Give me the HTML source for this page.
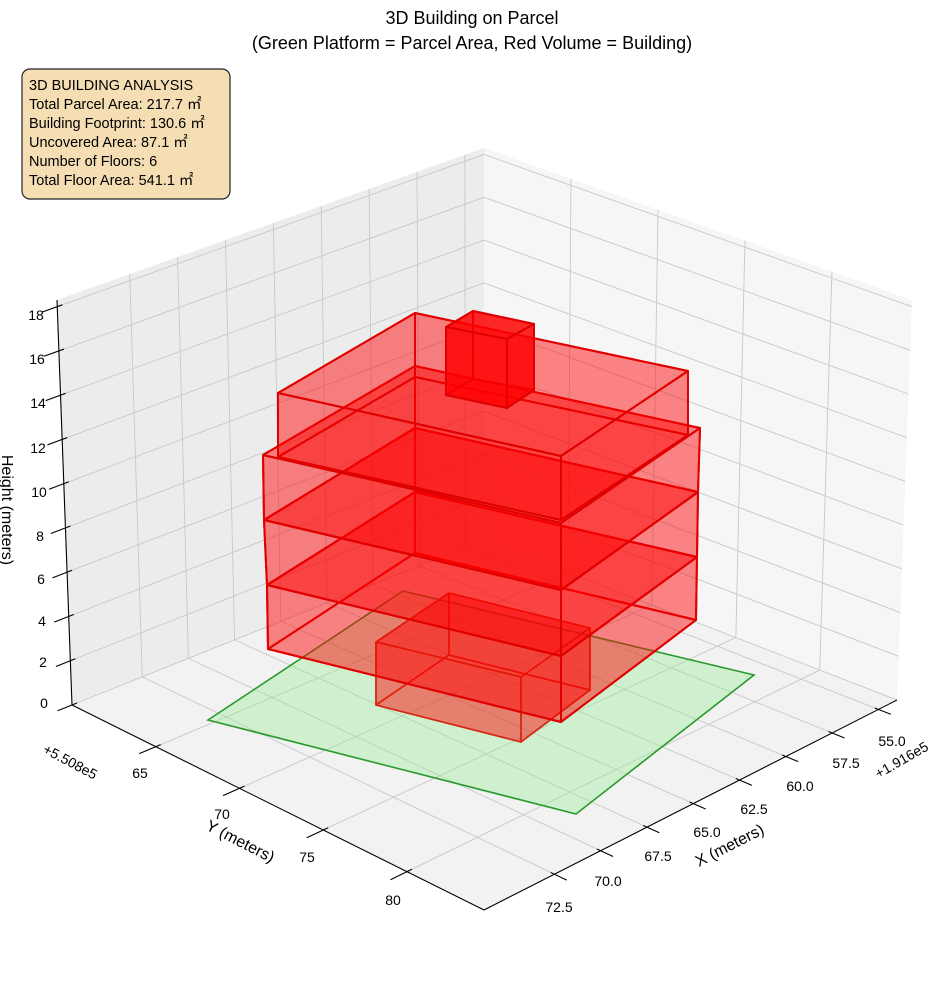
<!DOCTYPE html>
<html><head><meta charset="utf-8"><style>
body{margin:0;background:#fff;}
svg{display:block;font-family:"Liberation Sans",sans-serif;}
</style></head><body>
<svg id="s" width="944" height="992" viewBox="0 0 944 992" xmlns="http://www.w3.org/2000/svg">
<rect width="944" height="992" fill="#fff"/>
<polygon points="72,705 57,300 484,148 484,540" fill="#ececec"/>
<polygon points="484,540 484,148 912,300 897,700" fill="#f6f6f6"/>
<polygon points="72,705 484,540 897,700 484,910" fill="#f2f2f2"/>
<g id="grid" stroke="#c8c8c8" stroke-width="0.9" fill="none"></g>
<polygon points="208,720 403,591 754,675 576,814" fill="rgba(144,238,144,0.35)" stroke="#2a9a2a" stroke-width="1.6"/>
<g id="bld"></g>
<g stroke="#000" stroke-width="1.1" fill="none">
<line x1="57" y1="300" x2="72" y2="705"/>
<line x1="72" y1="705" x2="484" y2="910"/>
<line x1="484" y1="910" x2="897" y2="700"/>
</g>
<g id="ticks" stroke="#000" stroke-width="1.1"></g>
<g font-size="14" fill="#000" text-anchor="middle">
<text x="36" y="320">18</text><text x="37" y="364">16</text><text x="38" y="408">14</text>
<text x="38" y="453">12</text><text x="39" y="497">10</text><text x="40" y="541">8</text>
<text x="41" y="584">6</text><text x="42" y="626">4</text><text x="43" y="667">2</text>
<text x="44" y="708">0</text>
<text x="140" y="778">65</text><text x="222" y="819">70</text><text x="307" y="862">75</text><text x="393" y="905">80</text>
<text x="892" y="746">55.0</text><text x="846" y="768">57.5</text><text x="800" y="791">60.0</text>
<text x="754" y="814">62.5</text><text x="707" y="837">65.0</text><text x="658" y="861">67.5</text>
<text x="608" y="886">70.0</text><text x="559" y="912">72.5</text>
<text transform="translate(68,766) rotate(28)">+5.508e5</text>
<text transform="translate(904,764) rotate(-30)">+1.916e5</text>
<text font-size="16" transform="translate(238,846) rotate(27)">Y (meters)</text>
<text font-size="16" transform="translate(732,850) rotate(-27)">X (meters)</text>
<text font-size="16" transform="translate(2,510) rotate(90)">Height (meters)</text>
<text font-size="18" x="472" y="24">3D Building on Parcel</text>
<text font-size="18" x="472" y="49">(Green Platform = Parcel Area, Red Volume = Building)</text>
</g>
<rect x="22" y="69" width="208" height="130" rx="8" fill="#f5deb3" stroke="#222" stroke-width="1.2"/>
<g font-size="14.5" fill="#000">
<text x="29" y="90">3D BUILDING ANALYSIS</text>
<text x="29" y="109">Total Parcel Area: 217.7 ㎡</text>
<text x="29" y="128">Building Footprint: 130.6 ㎡</text>
<text x="29" y="147">Uncovered Area: 87.1 ㎡</text>
<text x="29" y="166">Number of Floors: 6</text>
<text x="29" y="185">Total Floor Area: 541.1 ㎡</text>
</g>
</svg>
<script>
var NS="http://www.w3.org/2000/svg";
function L(a,b,t){return [a[0]+(b[0]-a[0])*t,a[1]+(b[1]-a[1])*t];}
function line(g,p,q,attrs){var e=document.createElementNS(NS,"line");e.setAttribute("x1",p[0]);e.setAttribute("y1",p[1]);e.setAttribute("x2",q[0]);e.setAttribute("y2",q[1]);if(attrs)for(var k in attrs)e.setAttribute(k,attrs[k]);g.appendChild(e);}
var g=document.getElementById("grid"),tk=document.getElementById("ticks");
var c00=[72,705],c10=[484,540],c01=[484,910],c11=[897,700];
function fl(s,t){return L(L(c00,c10,s),L(c01,c11,s),t);}
var Xt=[55,57.5,60,62.5,65,67.5,70,72.5],Yt=[65,70,75,80];
var ZM=18.3;
Xt.forEach(function(X){var s=(76.3-X)/22.3;
 line(g,fl(s,0),fl(s,1));
 var lb=L(c00,c10,s),lt=L([57,300],[484,148],s);line(g,lb,lt);
 var p=fl(s,1),q=fl(s,1.03);line(tk,L(p,q,-0.3),q);
});
Yt.forEach(function(Y){var t=(Y-60)/24.6;
 line(g,fl(0,t),fl(1,t));
 var rb=L(c10,c11,t),rt=L([484,148],[912,300],t);line(g,rb,rt);
 var p=fl(0,t),q=fl(-0.04,t);line(tk,L(p,q,-0.3),q);
});
for(var z=0;z<=18;z+=2){var f=z/ZM;
 var a=L(c00,[57,300],f),b=L(c10,[484,148],f),c=L(c11,[912,300],f);
 line(g,a,b);line(g,b,c);
 var d=L(a,b,-0.035);line(tk,L(a,b,0.012),d);
}
var bg=document.getElementById("bld");
function poly(pts,fill,stroke,sw){var e=document.createElementNS(NS,"polygon");e.setAttribute("points",pts.map(function(p){return p.join(",")}).join(" "));e.setAttribute("fill",fill);e.setAttribute("stroke",stroke);e.setAttribute("stroke-width",sw);e.setAttribute("stroke-linejoin","round");bg.appendChild(e);}
function box(b,t,fill,stroke,sw){
 poly(b,fill,stroke,sw);
 for(var i=0;i<4;i++){var j=(i+1)%4;poly([b[i],b[j],t[j],t[i]],fill,stroke,sw);}
 poly(t,fill,stroke,sw);
}
var F="rgba(255,0,0,0.27)",S="#e00000";
box([[376,705],[449,655],[590,690],[521,742]],[[376,642],[449,593],[590,628],[521,677]],F,"#d42a10",1.6);
var Ls=[[263,455],[264,520],[267,585],[268,649]],Bs=[[415,366],[415,428],[415,492],[415,553]],
Rs=[[700,428],[698,492],[697,557],[696,620]],Fs=[[561,523],[561,590],[561,656],[561,722]];
for(var k=2;k>=0;k--){
 box([Ls[k+1],Bs[k+1],Rs[k+1],Fs[k+1]],[Ls[k],Bs[k],Rs[k],Fs[k]],F,S,2);
}
box([[278,457],[415,377],[688,435],[561,520]],[[278,393],[415,313],[688,371],[561,456]],F,S,2);
box([[446,395],[473,379],[534,390],[507,408]],[[446,327],[473,311],[534,324],[507,339]],"rgba(255,0,0,0.6)",S,2);
</script>
</body></html>
